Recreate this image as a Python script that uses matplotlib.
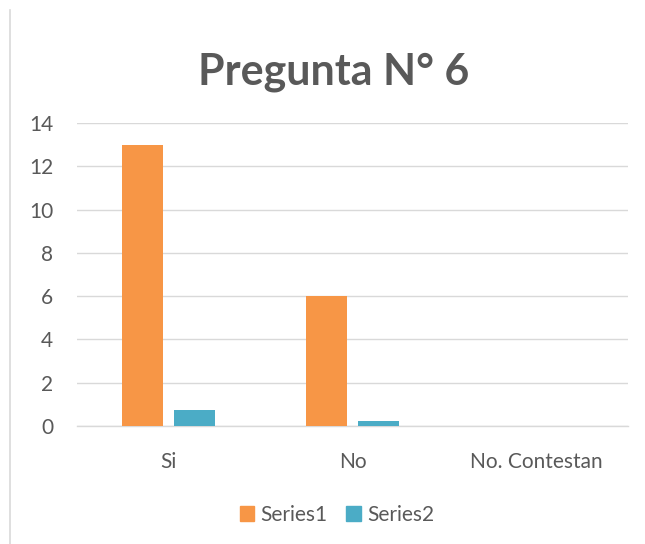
import matplotlib
matplotlib.use("Agg")
import matplotlib.pyplot as plt
import numpy as np
from matplotlib.patches import Patch
from matplotlib.lines import Line2D

categories = ["Si", "No", "No. Contestan"]
series1 = [13, 6, 0]
series2 = [0.73, 0.22, 0]
yticks = [0, 2, 4, 6, 8, 10, 12, 14]

c1 = "#F79646"
c2 = "#4BACC6"
text_col = "#595959"

plt.rcParams['font.family'] = ['Lato', 'DejaVu Sans']

fig = plt.figure(figsize=(6.45, 5.44), dpi=100)
ax = fig.add_axes([77/645, 1 - 426/544, (628-77)/645, (426-123)/544])

x = np.arange(len(categories))
w = 0.223
gap = 0.06
ax.bar(x - (w + gap) / 2, series1, width=w, color=c1, zorder=3)
ax.bar(x + (w + gap) / 2, series2, width=w, color=c2, zorder=3)

ax.set_xlim(-0.5, len(categories) - 0.5)
ax.set_ylim(0, 14)
ax.set_yticks(yticks)
ax.set_yticklabels([str(v) for v in yticks], fontsize=15, color=text_col)
ax.set_xticks(x)
ax.set_xticklabels(categories, fontsize=15, color=text_col)
ax.tick_params(axis='both', length=0)
ax.tick_params(axis='y', pad=17)
ax.tick_params(axis='x', pad=19)
ax.grid(axis='y', color="#D9D9D9", linewidth=1, zorder=0)
for s in ["top", "right", "left"]:
    ax.spines[s].set_visible(False)
ax.spines["bottom"].set_color("#D9D9D9")
ax.spines["bottom"].set_linewidth(1)

fig.text(334/645, 1 - 72/544, "Pregunta N° 6", ha="center", va="center",
         fontsize=31, fontweight="bold", color=text_col)

# thin frame line on the left edge
fig.add_artist(Line2D([10/645, 10/645], [0, 1 - 10/544], color="#D9D9D9", linewidth=1.2))

handles = [Patch(color=c1, label="Series1"), Patch(color=c2, label="Series2")]
fig.legend(handles=handles, loc="center", bbox_to_anchor=(337/645, 1 - 515/544),
           ncol=2, frameon=False, fontsize=15, labelcolor=text_col,
           handlelength=0.7, handleheight=0.7, handletextpad=0.3, columnspacing=0.9)

fig.savefig("out.png", dpi=100, facecolor="white")
